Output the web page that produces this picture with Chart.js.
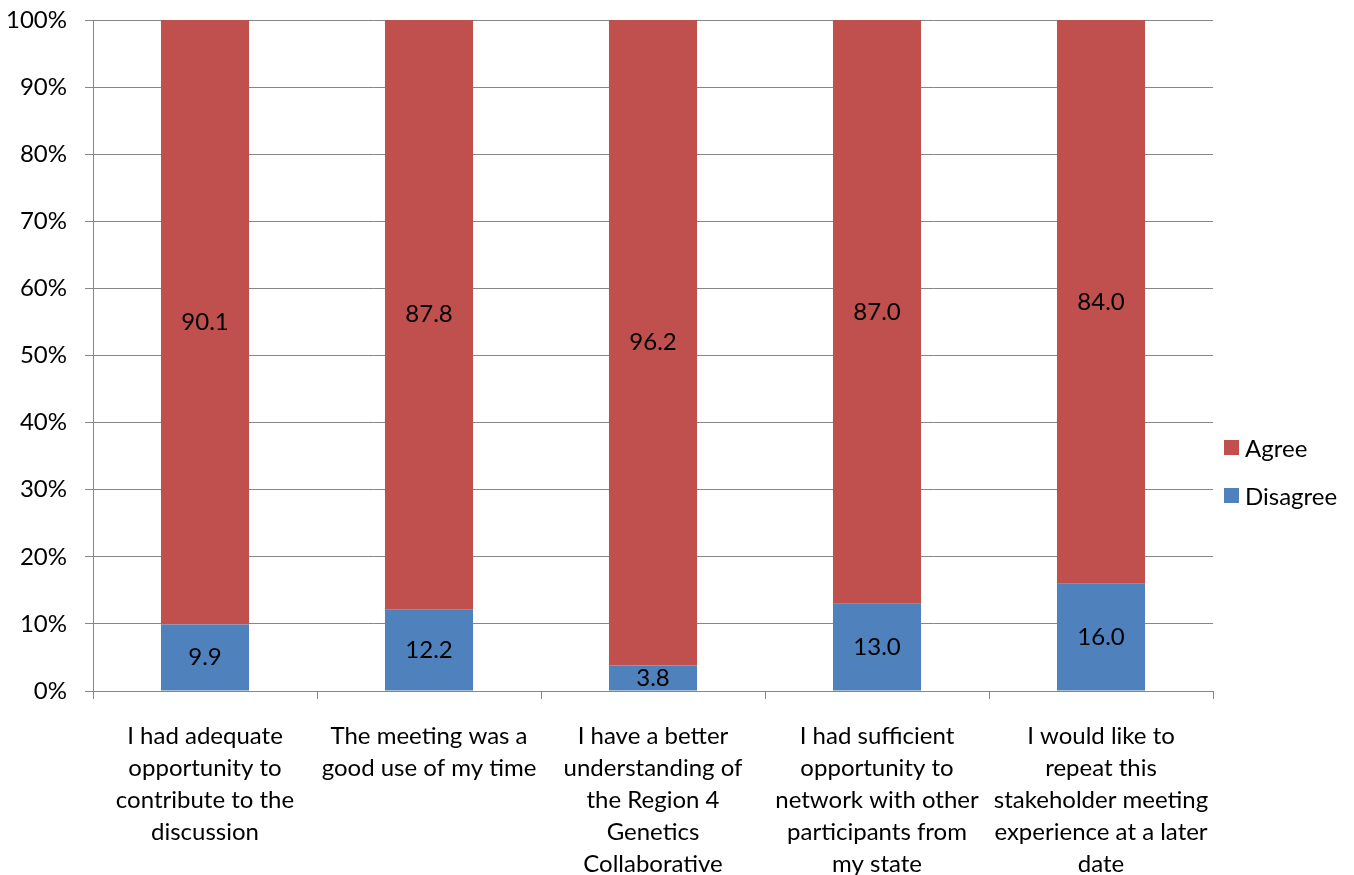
<!DOCTYPE html>
<html>
<head>
<meta charset="utf-8">
<script src="https://cdn.jsdelivr.net/npm/chart.js@4"></script>
<style>
  html, body { margin: 0; padding: 0; background: #fff; }
  #wrap { position: relative; width: 1354px; height: 875px; }
  #legend { position: absolute; left: 1224px; top: 423px; font-family: Lato, sans-serif; font-size: 24px; color: #000; }
  .item { display: flex; align-items: center; height: 48px; }
  .sw { width: 15px; height: 15px; margin-right: 6px; }
</style>
</head>
<body>
<div id="wrap">
  <canvas id="c" width="1354" height="875"></canvas>
  <div id="legend"></div>
</div>
<script>
const categories = [
  ["I had adequate", "opportunity to", "contribute to the", "discussion"],
  ["The meeting was a", "good use of my time"],
  ["I have a better", "understanding of", "the Region 4", "Genetics", "Collaborative"],
  ["I had sufficient", "opportunity to", "network with other", "participants from", "my state"],
  ["I would like to", "repeat this", "stakeholder meeting", "experience at a later", "date"]
];
const disagree = [9.9, 12.2, 3.8, 13.0, 16.0];
const agree = [90.1, 87.8, 96.2, 87.0, 84.0];
const yTicks = [0, 10, 20, 30, 40, 50, 60, 70, 80, 90, 100];

const FONT = "Lato, sans-serif";
const GRID = "#868686";

const labelPlugin = {
  id: 'segLabels',
  afterDatasetsDraw(chart) {
    const ctx = chart.ctx;
    ctx.save();
    ctx.font = "24px " + FONT;
    ctx.fillStyle = "#000";
    ctx.textAlign = "center";
    ctx.textBaseline = "middle";
    chart.data.datasets.forEach((ds, i) => {
      const meta = chart.getDatasetMeta(i);
      meta.data.forEach((bar, j) => {
        const p = bar.getProps(['x', 'y', 'base'], true);
        ctx.fillText(ds.data[j].toFixed(1), p.x, (p.y + p.base) / 2);
      });
    });
    ctx.restore();
  }
};

const datasets = [
  { label: "Disagree", data: disagree, backgroundColor: "#4F81BD" },
  { label: "Agree", data: agree, backgroundColor: "#C0504D" }
];

const chart = new Chart(document.getElementById('c'), {
  type: 'bar',
  data: { labels: categories, datasets: datasets },
  options: {
    responsive: false,
    animation: false,
    devicePixelRatio: 1,
    layout: { padding: { top: 20, right: 141, left: 0, bottom: 0 } },
    datasets: { bar: { categoryPercentage: 1, barPercentage: 0.393 } },
    plugins: { legend: { display: false }, tooltip: { enabled: false } },
    scales: {
      x: {
        stacked: true,
        offset: true,
        grid: { offset: true, drawOnChartArea: false, drawTicks: true, tickLength: 8, color: GRID, lineWidth: 1 },
        border: { display: true, color: GRID, width: 1 },
        ticks: { color: "#000", font: { family: FONT, size: 24, lineHeight: 1.34 }, padding: 21, maxRotation: 0, autoSkip: false },
        afterFit(s) { s.height = 184; s.paddingLeft = 0; s.paddingRight = 0; }
      },
      y: {
        stacked: true,
        min: 0, max: 100,
        afterBuildTicks(s) { s.ticks = yTicks.map(v => ({ value: v })); },
        grid: { color: GRID, lineWidth: 1, drawTicks: true, tickLength: 8 },
        border: { display: true, color: GRID, width: 1 },
        ticks: { color: "#000", font: { family: FONT, size: 24 }, padding: 18, callback: v => v + "%" },
        afterFit(s) { s.width = 93; s.paddingTop = 0; s.paddingBottom = 0; }
      }
    }
  },
  plugins: [labelPlugin]
});

const leg = document.getElementById('legend');
[datasets[1], datasets[0]].forEach(ds => {
  const d = document.createElement('div');
  d.className = 'item';
  const sw = document.createElement('span');
  sw.className = 'sw';
  sw.style.background = ds.backgroundColor;
  const t = document.createElement('span');
  t.textContent = ds.label;
  d.appendChild(sw); d.appendChild(t);
  leg.appendChild(d);
});
</script>
</body>
</html>
